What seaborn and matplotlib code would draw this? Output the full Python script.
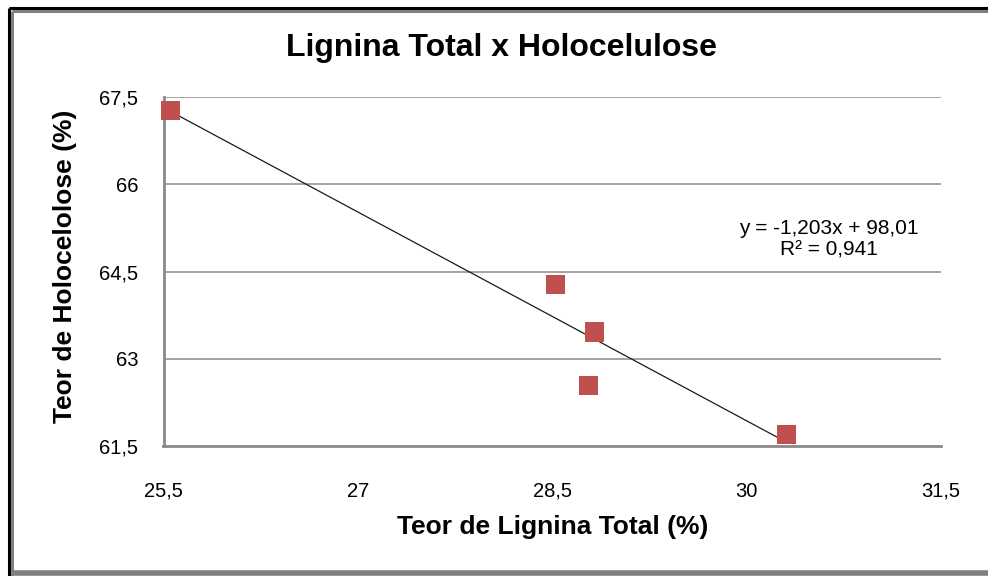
import matplotlib
matplotlib.use("Agg")
import matplotlib.pyplot as plt
import seaborn as sns
import pandas as pd
from matplotlib.lines import Line2D

# Data
lignina = [25.556, 28.525, 28.824, 28.778, 30.307]
holocelulose = [67.276, 64.273, 63.458, 62.540, 61.697]
x_ticks = [25.5, 27, 28.5, 30, 31.5]
x_tick_labels = ["25,5", "27", "28,5", "30", "31,5"]
y_ticks = [61.5, 63, 64.5, 66, 67.5]
y_tick_labels = ["61,5", "63", "64,5", "66", "67,5"]
title = "Lignina Total x Holocelulose"
x_label = "Teor de Lignina Total (%)"
y_label = "Teor de Holocelolose (%)"
eq_text = "y = -1,203x + 98,01\nR² = 0,941"

df = pd.DataFrame({"x": lignina, "y": holocelulose})

sns.set_theme(style="white")
plt.rcParams["font.family"] = ["Liberation Sans", "DejaVu Sans"]
plt.rcParams["text.color"] = "black"

W, H = 988, 576
fig = plt.figure(figsize=(W / 100, H / 100), dpi=100)
fig.patch.set_facecolor("white")
ax = fig.add_axes([163.5 / W, 1 - 445.7 / H, (941 - 163.5) / W, (445.7 - 97.3) / H])

grid_c = "#8a8a8a"
for yv in y_ticks[1:]:
    ax.axhline(yv, color=grid_c, lw=1.1, zorder=0)

sns.regplot(data=df, x="x", y="y", scatter=False, ci=None, truncate=True,
            line_kws={"color": "#1a1a1a", "lw": 0.9, "zorder": 2}, ax=ax)
sns.scatterplot(data=df, x="x", y="y", marker="s", s=190, color="#C0504D",
                edgecolor="none", linewidth=0, zorder=3, ax=ax, clip_on=False)

ax.set_xlim(25.5, 31.5)
ax.set_ylim(61.5, 67.5)
ax.set_xticks(x_ticks)
ax.set_xticklabels(x_tick_labels)
ax.set_yticks(y_ticks)
ax.set_yticklabels(y_tick_labels)
ax.tick_params(axis="both", direction="out", length=6, width=1.1, color=grid_c,
               labelsize=14.5, labelcolor="black")
ax.tick_params(axis="x", pad=20)
ax.tick_params(axis="y", pad=12)
for s in ["top", "right"]:
    ax.spines[s].set_visible(False)
for s in ["left", "bottom"]:
    ax.spines[s].set_color(grid_c)
    ax.spines[s].set_linewidth(2)
ax.grid(False)

ax.set_xlabel("")
ax.set_ylabel("")
fig.text(553 / W, 1 - 527 / H, x_label, ha="center", va="center",
         fontsize=19, fontweight="bold")
fig.text(65 / W, 1 - 266 / H, y_label, ha="center", va="center",
         rotation=90, fontsize=19, fontweight="bold")
fig.text(502 / W, 1 - 48 / H, title, ha="center", va="center",
         fontsize=23, fontweight="bold")
fig.text(829 / W, 1 - 239.5 / H, eq_text, ha="center", va="center",
         fontsize=15, linespacing=1.2)

# outer frame (black top/left, grey shadow)
def px_line(x0, y0, x1, y1, c, lw):
    fig.add_artist(Line2D([x0 / W, x1 / W], [1 - y0 / H, 1 - y1 / H],
                          transform=fig.transFigure, color=c, lw=lw,
                          solid_capstyle="butt"))

px_line(9, 8, 9, 576, "black", 2.2)
px_line(9, 8, 988, 8, "black", 2.2)
px_line(12, 10.5, 12, 576, "#808080", 2.2)
px_line(12, 10.5, 988, 10.5, "#808080", 2.2)
px_line(12, 573, 988, 573, "#808080", 4)

fig.savefig("out.png", dpi=100, facecolor="white")
